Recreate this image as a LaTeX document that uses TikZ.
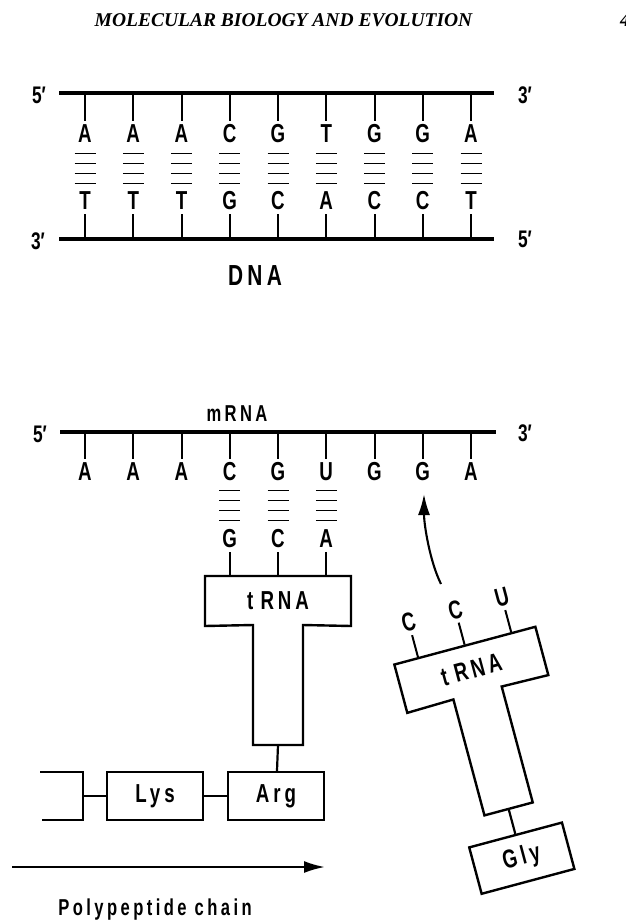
\documentclass[tikz,border=0pt]{standalone}
\usepackage{fontspec}
\usepackage{tikz}
\usetikzlibrary{arrows.meta,calc}
\newfontfamily\narrowsans[FakeStretch=0.72]{Liberation Sans}
\newfontfamily\spacedsans[FakeStretch=0.72,LetterSpace=15]{Liberation Sans}
\newfontfamily\runninghead{Liberation Serif}

\begin{document}
\begin{tikzpicture}[x=1pt,y=-1pt,
            strand/.style={line width=3.2pt},
            tick/.style={line width=2pt},
            hbond/.style={line width=1.8pt},
            base/.style={font=\narrowsans\bfseries\fontsize{26}{26}\selectfont, inner sep=0pt, outer sep=4pt},
            prime/.style={font=\narrowsans\bfseries\fontsize{24}{24}\selectfont, inner sep=0pt},
            residue/.style={draw, line width=2.4pt, minimum width=96pt, minimum height=48pt,
                inner sep=0pt, font=\spacedsans\bfseries\fontsize{26}{26}\selectfont},
            trnabar/.style={minimum width=146pt, minimum height=50pt, inner sep=0pt, outer sep=0pt,
                font=\spacedsans\bfseries\fontsize{26}{26}\selectfont},
            outline/.style={line width=2.4pt, line join=miter},
            link/.style={line width=2.2pt},
            longarrow/.style={line width=2.3pt, -{Latex[length=21pt,width=12pt]}}]

            \useasboundingbox (0,0) rectangle (625,923);

            \node [font=\runninghead\bfseries\itshape\fontsize{19.5}{19.5}\selectfont, inner sep=0pt] (head) at (283.5,20.5) {MOLECULAR BIOLOGY AND EVOLUTION};
            \node [font=\runninghead\bfseries\itshape\fontsize{19.5}{19.5}\selectfont, inner sep=0pt, anchor=west] (folio) at (620,20.5) {4};

            \coordinate (top5) at (59,93);
            \coordinate (top3) at (494,93);
            \coordinate (bot3) at (59,239);
            \coordinate (bot5) at (494,239);
            \draw [strand] (top5) -- (top3);
            \draw [strand] (bot3) -- (bot5);
            \node [prime] (pt5) at (39,95) {5′};
            \node [prime] (pt3) at (525,95) {3′};
            \node [prime] (pb3) at (38,241) {3′};
            \node [prime] (pb5) at (525,239) {5′};

            \foreach \up/\down [count=\i from 0] in {A/T,A/T,A/T,C/G,G/C,T/A,G/C,G/C,A/T} {
                \pgfmathsetmacro\x{85+48.25*\i}
                \node [base] (u\i) at (\x,134) {\up};
                \node [base] (d\i) at (\x,201) {\down};
                \draw [tick] (u\i |- top5) -- (u\i);
                \draw [tick] (d\i |- bot3) -- (d\i);
                \foreach \y in {153.5,163.5,173.5,183.5}
                    \draw [hbond] (\x-10.5,\y) -- (\x+10.5,\y);
            }
            \node [font=\spacedsans\bfseries\fontsize{29}{29}\selectfont, inner sep=0pt] (dna) at (255,276) {DNA};

            \coordinate (m5) at (60,432);
            \coordinate (m3) at (496,432);
            \draw [strand] (m5) -- (m3);
            \node [font=\spacedsans\bfseries\fontsize{23}{23}\selectfont, inner sep=0pt] (mrna) at (237,414) {mRNA};
            \node [prime] (pm5) at (40,434) {5′};
            \node [prime] (pm3) at (525,433) {3′};
            \foreach \b [count=\i from 0] in {A,A,A,C,G,U,G,G,A} {
                \node [base] (c\i) at (85+48.25*\i,472) {\b};
                \draw [tick] (c\i |- m5) -- (c\i);
            }
            \foreach \i in {3,4,5} {
                \pgfmathsetmacro\x{85+48.25*\i}
                \foreach \y in {490.5,500.5,510.5,520.5}
                    \draw [hbond] (\x-10.5,\y) -- (\x+10.5,\y);
            }

            \begin{scope}[shift={(278,575)}]
                \node [trnabar] (trna1) at (0,26) {t\;RNA};
                \draw [outline] (trna1.south west) -- (trna1.north west) -- (trna1.north east)
                    -- (trna1.south east) -- (25,50) -- (25,170) -- (-25,170) -- (-25,50) -- cycle;
                \coordinate (stem1) at (0,170);
                \foreach \b/\dx [count=\i] in {G/-48.25,C/0,A/48.25} {
                    \node [base] (ac\i) at (\dx,-36) {\b};
                    \coordinate (foot\i) at (\dx,0);
                    \draw [tick] (ac\i) -- (foot\i);
                }
            \end{scope}

            \node [residue] (lys) at (155,796) {Lys};
            \node [residue] (arg) at (276,796) {Arg};
            \coordinate (prev) at (83,796);
            \draw [outline] (40,772) -| (prev) |- (42,820);
            \draw [link] (prev) -- (lys);
            \draw [link] (lys) -- (arg);
            \draw [link] (stem1) -- (arg);

            \coordinate (chainstart) at (12,867);
            \coordinate (chainend) at (325,867);
            \draw [longarrow] (chainstart) -- (chainend);
            \node [font=\spacedsans\bfseries\fontsize{23}{23}\selectfont, inner sep=0pt, anchor=base] (chain) at (155,915) {Polypeptide chain};

            \begin{scope}[shift={(464.6,644.7)}, rotate=15, transform shape]
                \node [trnabar] (trna2) at (0,26) {t\;RNA};
                \draw [outline] (trna2.south west) -- (trna2.north west) -- (trna2.north east)
                    -- (trna2.south east) -- (25,50) -- (25,170) -- (-25,170) -- (-25,50) -- cycle;
                \coordinate (stem2) at (0,170);
                \foreach \b/\dx [count=\i] in {C/-48.25,C/0,U/48.25} {
                    \node [base] (cd\i) at (\dx,-36) {\b};
                    \coordinate (top\i) at (\dx,0);
                    \draw [tick] (cd\i) -- (top\i);
                }
                \node [residue] (gly) at (0,221) {Gly};
                \draw [link] (stem2) -- (gly);
            \end{scope}

            \coordinate (gfrom) at (441,584);
            \coordinate (gto) at (424,494);
            \draw [longarrow, line width=2.1pt] (gfrom) .. controls (430,562) and (424,525) .. (gto);

        \end{tikzpicture}
\end{document}
